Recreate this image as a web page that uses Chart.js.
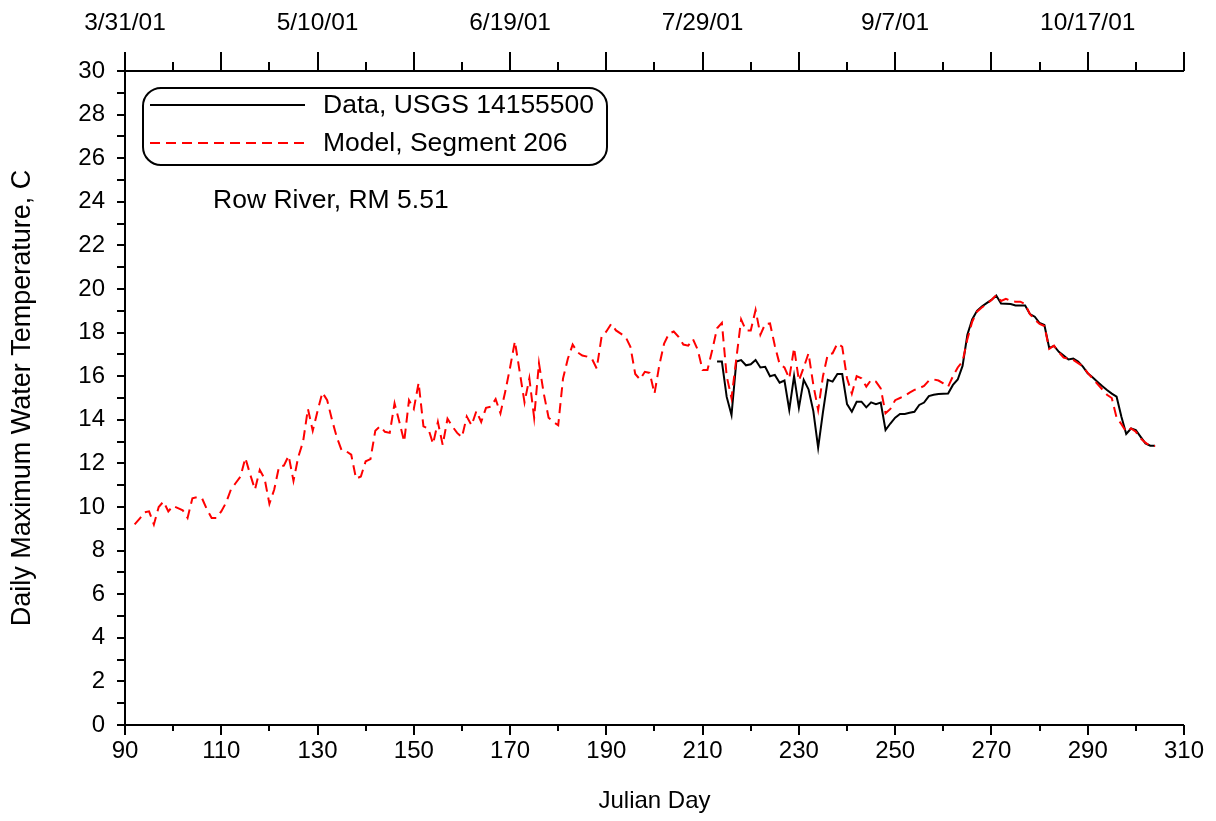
<!DOCTYPE html>
<html>
<head>
<meta charset="utf-8">
<script src="https://cdn.jsdelivr.net/npm/chart.js@4.4.1/dist/chart.umd.min.js"></script>
<style>
  html, body { margin: 0; padding: 0; background: #fff; }
  #wrap { width: 1216px; height: 821px; }
</style>
</head>
<body>
<div id="wrap"><canvas id="grafico" width="1216" height="821"></canvas></div>
<script>
// Julian day of the first value in each series, one value per day
const modelStartDay = 92;
const modelTemps = [
  9.2, 9.45, 9.75, 9.8, 9.2, 10.0, 10.25, 9.8, 10.05, 9.95,
  9.85, 9.5, 10.4, 10.45, 10.4, 9.9, 9.5, 9.5, 9.8, 10.2,
  10.8, 11.1, 11.4, 12.25, 11.5, 10.8, 11.7, 11.3, 10.15, 10.8,
  11.85, 11.9, 12.35, 11.2, 12.3, 13.0, 14.5, 13.5, 14.4, 15.25,
  14.9, 14.0, 13.2, 12.6, 12.55, 12.4, 11.3, 11.4, 12.1, 12.2,
  13.5, 13.7, 13.45, 13.4, 14.75, 13.9, 13.0, 14.9, 14.5, 15.7,
  13.7, 13.6, 12.9, 13.9, 12.85, 14.05, 13.7, 13.4, 13.2, 14.15,
  13.75, 14.4, 13.9, 14.55, 14.6, 14.95, 14.3, 15.3, 16.4, 17.6,
  16.2, 14.8, 15.9, 14.1, 16.6, 15.2, 14.1, 13.9, 13.75, 15.9,
  16.8, 17.45, 17.1, 16.95, 16.9, 16.8, 16.35, 17.8, 18.05, 18.4,
  18.1, 17.95, 17.8, 17.35, 16.1, 15.85, 16.2, 16.15, 15.2, 16.5,
  17.5, 17.95, 18.05, 17.8, 17.45, 17.4, 17.7, 17.2, 16.28, 16.28,
  17.2, 18.2, 18.45, 16.0, 15.0, 16.8, 18.6, 18.1, 18.1, 19.04,
  17.9, 18.4, 18.42, 17.4, 16.55, 16.4, 15.9, 17.3, 15.8, 16.4,
  17.05, 15.6, 14.45, 16.0, 17.0, 17.05, 17.5, 17.35, 15.9, 15.2,
  16.0, 15.9, 15.52, 15.83, 15.75, 15.44, 14.3, 14.5, 14.9, 15.0,
  15.1, 15.25, 15.37, 15.45, 15.55, 15.8, 15.85, 15.8, 15.67, 15.52,
  16.0, 16.4, 16.67, 17.7, 18.5, 18.96, 19.15, 19.3, 19.5, 19.72,
  19.45, 19.55, 19.45, 19.42, 19.42, 19.3, 18.85, 18.6, 18.4, 18.3,
  17.25, 17.4, 17.1, 16.85, 16.8, 16.75, 16.6, 16.45, 16.15, 15.9,
  15.65, 15.4, 15.15, 15.0, 14.1, 13.8, 13.45, 13.6, 13.45, 13.15,
  12.95, 12.8, 12.8
];

const dataStartDay = 213;
const dataTemps = [
  16.67, 16.67, 15.05, 14.22, 16.67, 16.74, 16.5, 16.55, 16.74, 16.4,
  16.43, 16.0, 16.06, 15.7, 15.8, 14.45, 16.0, 14.55, 15.83, 15.4,
  14.4, 12.72, 14.35, 15.83, 15.75, 16.1, 16.1, 14.72, 14.37, 14.83,
  14.83, 14.57, 14.8, 14.72, 14.79, 13.53, 13.83, 14.1, 14.27, 14.27,
  14.32, 14.37, 14.68, 14.79, 15.09, 15.15, 15.18, 15.2, 15.21, 15.6,
  15.85, 16.47, 17.9, 18.6, 19.0, 19.2, 19.35, 19.5, 19.7, 19.33,
  19.32, 19.31, 19.24, 19.24, 19.24, 18.85, 18.73, 18.44, 18.35, 17.3,
  17.39, 17.12, 16.95, 16.77, 16.81, 16.67, 16.44, 16.13, 15.95, 15.75,
  15.55, 15.37, 15.2, 15.06, 14.14, 13.35, 13.6, 13.53, 13.22, 12.92,
  12.81, 12.81
];

// top axis: calendar dates for some julian days
const topTickDays = [90, 130, 170, 210, 250, 290];
const topTickLabels = ['3/31/01', '5/10/01', '6/19/01', '7/29/01', '9/7/01', '10/17/01'];

const fuente = "'Liberation Sans', Arial, sans-serif";

function aPuntos(inicio, valores) {
  return valores.map((t, i) => ({ x: inicio + i, y: t }));
}

// tick marks drawn by hand: majors and minors of different length
const marcasEjes = {
  id: 'marcasEjes',
  afterDraw(chart) {
    const ctx = chart.ctx;
    const { x, x2, y } = chart.scales;
    const area = chart.chartArea;
    ctx.save();
    ctx.strokeStyle = '#000';
    ctx.lineWidth = 2;
    ctx.beginPath();
    for (let v = y.min; v <= y.max; v++) {
      const py = Math.round(y.getPixelForValue(v));
      ctx.moveTo(area.left - 8, py);
      ctx.lineTo(area.left, py);
    }
    for (let d = x.min; d <= x.max; d += 10) {
      const px = Math.round(x.getPixelForValue(d));
      const largo = (d - x.min) % 20 === 0 ? 10 : 6;
      ctx.moveTo(px, area.bottom);
      ctx.lineTo(px, area.bottom + largo);
      const px2 = Math.round(x2.getPixelForValue(d));
      const largo2 = (d - x2.min) % 20 === 0 ? 19 : 9;
      ctx.moveTo(px2, area.top);
      ctx.lineTo(px2, area.top - largo2);
    }
    ctx.stroke();
    ctx.restore();
  }
};

// legend box with rounded corners plus the site note
const leyendaCaja = {
  id: 'leyendaCaja',
  afterDraw(chart) {
    const ctx = chart.ctx;
    const sets = chart.data.datasets;
    ctx.save();
    ctx.strokeStyle = '#000';
    ctx.lineWidth = 2;
    ctx.beginPath();
    ctx.roundRect(143, 88, 464, 77, 18);
    ctx.stroke();

    const filas = [sets[1], sets[0]];
    filas.forEach((ds, i) => {
      const yy = 105 + i * 38;
      ctx.beginPath();
      ctx.strokeStyle = ds.borderColor;
      ctx.lineWidth = ds.borderWidth;
      ctx.setLineDash(ds.borderDash || []);
      ctx.moveTo(150, yy);
      ctx.lineTo(305, yy);
      ctx.stroke();
      ctx.setLineDash([]);
      ctx.fillStyle = '#000';
      ctx.font = '26.5px ' + fuente;
      ctx.textBaseline = 'middle';
      ctx.fillText(ds.label, 323, yy + 1);
    });

    ctx.font = '26.5px ' + fuente;
    ctx.textBaseline = 'middle';
    ctx.fillText('Row River, RM 5.51', 213, 201);
    ctx.restore();
  }
};

const ctx = document.getElementById('grafico').getContext('2d');
new Chart(ctx, {
  type: 'line',
  data: {
    datasets: [
      {
        label: 'Model, Segment 206',
        data: aPuntos(modelStartDay, modelTemps),
        borderColor: '#ff0000',
        borderWidth: 2,
        borderDash: [10, 6],
        pointRadius: 0,
        fill: false,
        tension: 0,
        order: 0
      },
      {
        label: 'Data, USGS 14155500',
        data: aPuntos(dataStartDay, dataTemps),
        borderColor: '#000000',
        borderWidth: 2,
        pointRadius: 0,
        fill: false,
        tension: 0,
        order: 1
      }
    ]
  },
  options: {
    responsive: false,
    animation: false,
    layout: { padding: { left: 0, right: 29, top: 0, bottom: 0 } },
    plugins: {
      legend: { display: false },
      tooltip: { enabled: false }
    },
    scales: {
      x: {
        type: 'linear',
        position: 'bottom',
        min: 90,
        max: 310,
        afterFit: (s) => { s.height = 96; },
        grid: { display: false, drawTicks: false },
        border: { display: true, color: '#000', width: 2 },
        ticks: { stepSize: 20, padding: 12, color: '#000', font: { family: fuente, size: 24 }, maxRotation: 0 },
        title: { display: true, text: 'Julian Day', color: '#000', font: { family: fuente, size: 24 }, padding: { top: 0, bottom: 5 } }
      },
      x2: {
        type: 'linear',
        position: 'top',
        min: 90,
        max: 310,
        afterFit: (s) => { s.height = 71; },
        afterBuildTicks: (s) => { s.ticks = topTickDays.map(v => ({ value: v })); },
        grid: { display: false, drawTicks: false },
        border: { display: true, color: '#000', width: 2 },
        ticks: {
          padding: 33,
          color: '#000',
          font: { family: fuente, size: 24.5 },
          maxRotation: 0,
          callback: (v) => topTickLabels[topTickDays.indexOf(v)]
        }
      },
      y: {
        min: 0,
        max: 30,
        afterFit: (s) => { s.width = 125; },
        grid: { display: false, drawTicks: false },
        border: { display: true, color: '#000', width: 2 },
        ticks: { stepSize: 2, padding: 20, color: '#000', font: { family: fuente, size: 24 } },
        title: { display: true, text: 'Daily Maximum Water Temperature, C', color: '#000', font: { family: fuente, size: 27 }, padding: { top: 6, bottom: 0 } }
      }
    }
  },
  plugins: [marcasEjes, leyendaCaja]
});
</script>
</body>
</html>
